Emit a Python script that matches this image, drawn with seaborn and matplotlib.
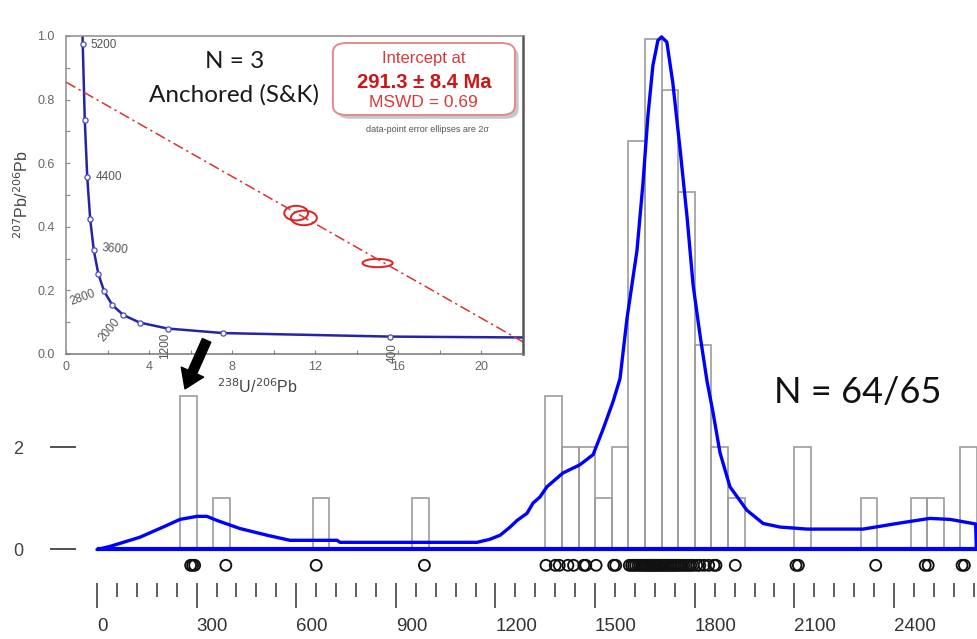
import numpy as np
import matplotlib
matplotlib.use('Agg')
import matplotlib.pyplot as plt
import seaborn as sns
from matplotlib.patches import Ellipse, FancyBboxPatch
from matplotlib.ticker import MultipleLocator

# ---------------- data ----------------
# detrital zircon ages (Ma)
ages = [282, 288, 294, 388, 660, 986,
        1352, 1380, 1392, 1418, 1435, 1466, 1472, 1503, 1556, 1562,
        1603, 1610, 1616, 1622, 1629, 1635, 1641, 1647,
        1652, 1657, 1662, 1667, 1672, 1677, 1682, 1687, 1692, 1697,
        1703, 1708, 1714, 1719, 1725, 1730, 1736, 1741, 1747,
        1753, 1760, 1767, 1774, 1781, 1788, 1795,
        1806, 1815, 1828, 1842,
        1858, 1864, 1922, 2105, 2112, 2345, 2494, 2503, 2605, 2612]
bin_width = 50

# density curve (scaled to the histogram), age / height
curve_age = [0, 39, 129, 199, 250, 301, 331, 361, 431, 512, 581, 723, 732, 1144,
             1183, 1214, 1244, 1265, 1295, 1313, 1334, 1355, 1403, 1454, 1494,
             1524, 1554, 1575, 1596, 1626, 1644, 1659, 1674, 1689, 1700, 1716,
             1734, 1756, 1777, 1795, 1816, 1837, 1855, 1876, 1906, 1957, 2006,
             2057, 2138, 2307, 2409, 2508, 2569, 2646, 2648]
curve_val = [0.0, 0.06, 0.24, 0.44, 0.59, 0.65, 0.65, 0.57, 0.41, 0.28, 0.18, 0.18, 0.14, 0.14,
             0.20, 0.28, 0.44, 0.57, 0.71, 0.91, 1.03, 1.23, 1.50, 1.66, 1.86,
             2.36, 2.90, 3.35, 4.53, 5.86, 7.17, 8.50, 9.49, 9.98, 10.05, 9.95,
             9.15, 7.84, 6.51, 5.19, 4.20, 3.30, 2.69, 1.90, 1.23, 0.77, 0.51,
             0.44, 0.40, 0.40, 0.51, 0.61, 0.59, 0.50, 0.0]

x_major = [0, 300, 600, 900, 1200, 1500, 1800, 2100, 2400]
x_labels = ['0', '300', '600', '900', '1200', '1500', '1800', '2100', '2400']
y_ticks = [0, 2]
y_labels = ['0', '2']

# inset: Tera-Wasserburg concordia nodes (238U/206Pb, 207Pb/206Pb)
node_age = [5200, 4800, 4400, 4000, 3600, 3200, 2800, 2400, 2000, 1600, 1200, 800, 400]
node_x = [0.806, 0.904, 1.022, 1.163, 1.338, 1.556, 1.838, 2.217, 2.749, 3.550, 4.888, 7.568, 15.62]
node_y = [0.974, 0.735, 0.557, 0.425, 0.326, 0.252, 0.197, 0.155, 0.123, 0.0987, 0.0801, 0.0658, 0.0547]
conc_x = [0.795] + node_x + [22.0]
conc_y = [1.009] + node_y + [0.0520]
labelled_ages = ['5200', '4400', '3600', '2800', '2000', '1200', '400']
# discordia (anchored) line end points
disc_x = [0.0, 22.3]
disc_y = [0.855, 0.027]
# data-point error ellipses: centre x, centre y, width, height
ell_x = [11.08, 11.45, 15.0]
ell_y = [0.443, 0.428, 0.286]
ell_w = [1.15, 1.25, 1.45]
ell_h = [0.046, 0.046, 0.026]

# ---------------- figure ----------------
sns.set_style('white')
plt.rcParams['font.family'] = ['Liberation Sans', 'DejaVu Sans']

W, H = 978, 639
fig = plt.figure(figsize=(W / 100, H / 100), dpi=100)


def px_rect(l, t, r, b):
    return [l / W, (H - b) / H, (r - l) / W, (b - t) / H]


ax = fig.add_axes(px_rect(95, 30, 978, 583))
bin_edges = np.arange(0, 2650 + bin_width, bin_width)
sns.histplot(x=ages, bins=bin_edges, ax=ax, fill=False, color='#9c9c9c',
             linewidth=1.2, element='bars')
sns.lineplot(x=curve_age, y=curve_val, ax=ax, color='#0000ff', linewidth=2.4,
             sort=False, estimator=None, zorder=4)
ax.hlines(0, curve_age[0], curve_age[-1], color='#0000ff', linewidth=3, zorder=4)
rug_y = -0.31
sns.scatterplot(x=ages, y=[rug_y] * len(ages), ax=ax, marker='o', s=62,
                facecolor='none', edgecolor='#111111', linewidth=1.35, zorder=5)

ax.set_xlim(-6, 2653)
ax.set_ylim(-0.657, 10.186)
ax.set_xlabel('')
ax.set_ylabel('')
for s in ax.spines.values():
    s.set_visible(False)
ax.spines['left'].set_position(('outward', 13.7))
ax.set_yticks(y_ticks)
ax.set_yticklabels(y_labels)
ax.tick_params(axis='y', direction='out', length=18.7, width=1.2, color='#333333',
               pad=19.4, labelsize=13, labelcolor='#444444', left=True)
ax.set_xticks(x_major)
ax.set_xticklabels(x_labels, ha='left')
ax.xaxis.set_minor_locator(MultipleLocator(60))
ax.tick_params(axis='x', which='major', direction='out', length=18, width=1.1,
               color='#333333', pad=7.5, labelsize=13.5, labelcolor='#333333', bottom=True)
ax.tick_params(axis='x', which='minor', direction='out', length=10, width=1.1,
               color='#333333', bottom=True)
for lbl in ax.get_xticklabels():
    lbl.set_x(lbl.get_position()[0])

ax.text(0.864, 0.344, 'N = 64/65', transform=ax.transAxes, ha='center', va='center',
        fontsize=26, family=['Lato', 'DejaVu Sans'], color='#111111')

# ---------------- inset ----------------
ax_in = fig.add_axes(px_rect(66, 36, 523, 354))
sns.lineplot(x=conc_x, y=conc_y, ax=ax_in, color='#2424a8', linewidth=1.8,
             sort=False, estimator=None)
sns.scatterplot(x=node_x, y=node_y, ax=ax_in, marker='o', s=14, facecolor='white',
                edgecolor='#4a4ac8', linewidth=0.9, zorder=4)
ax_in.plot(disc_x, disc_y, color='#e03030', linewidth=1.1,
           linestyle=(0, (7, 2.5, 1.5, 2.5)))
for cx, cy, w, h in zip(ell_x, ell_y, ell_w, ell_h):
    ax_in.add_patch(Ellipse((cx, cy), w, h, fill=False, edgecolor='#e02020', linewidth=1.4))

ax_in.set_xlim(0, 22)
ax_in.set_ylim(0, 1.0)
ax_in.set_xticks([0, 4, 8, 12, 16, 20])
ax_in.set_yticks([0.0, 0.2, 0.4, 0.6, 0.8, 1.0])
ax_in.set_yticklabels(['0.0', '0.2', '0.4', '0.6', '0.8', '1.0'])
ax_in.xaxis.set_minor_locator(MultipleLocator(2))
ax_in.yaxis.set_minor_locator(MultipleLocator(0.1))
ax_in.tick_params(which='both', direction='in', length=3, width=0.8, color='#888888',
                  labelsize=9, labelcolor='#666666', left=True, bottom=True)
ax_in.tick_params(axis='x', pad=5)
ax_in.tick_params(axis='y', pad=8)
for name, s in ax_in.spines.items():
    s.set_color('#8c8c8c')
    s.set_linewidth(1.1)
ax_in.spines['right'].set_color('#555555')
ax_in.spines['right'].set_linewidth(1.8)
ax_in.spines['bottom'].set_color('#777777')
ax_in.set_xlabel('$^{238}$U/$^{206}$Pb', fontsize=11.5, color='#444444')
ax_in.xaxis.label.set_va('center')
ax_in.xaxis.set_label_coords(0.42, -0.102)
ax_in.set_ylabel('$^{207}$Pb/$^{206}$Pb', fontsize=11.5, color='#444444')
ax_in.yaxis.label.set_va('center')
ax_in.yaxis.set_label_coords(-0.097, 0.50)

# node age labels (position in data units, rotation)
lab_pos = [(1.83, 0.972, 0), (2.05, 0.557, 0), (2.36, 0.330, -5), (0.79, 0.176, 20),
           (2.10, 0.075, 50), (4.77, 0.025, 90), (15.71, 0.003, 90)]
for txt, (lx, ly, rot) in zip(labelled_ages, lab_pos):
    ax_in.text(lx, ly, txt, fontsize=8.5, color='#555555', ha='center', va='center',
               rotation=rot, rotation_mode='anchor')

ax_in.text(0.368, 0.92, 'N = 3', transform=ax_in.transAxes, ha='center', va='center',
           fontsize=17.5, family=['Lato', 'DejaVu Sans'], color='#1a1a1a')
ax_in.text(0.368, 0.816, 'Anchored (S&K)', transform=ax_in.transAxes, ha='center',
           va='center', fontsize=17.5, family=['Lato', 'DejaVu Sans'], color='#1a1a1a')

# result box
bx0, by0, bw, bh = 0.584, 0.7516, 0.3985, 0.2264
shadow = FancyBboxPatch((bx0 + 0.008, by0 - 0.012), bw, bh,
                        boxstyle='round,pad=0,rounding_size=0.03',
                        transform=ax_in.transAxes, facecolor='#c8c8c8',
                        edgecolor='none', zorder=5)
box = FancyBboxPatch((bx0, by0), bw, bh, boxstyle='round,pad=0,rounding_size=0.03',
                     transform=ax_in.transAxes, facecolor='white', edgecolor='#e58a8a',
                     linewidth=1.4, zorder=6)
ax_in.add_patch(shadow)
ax_in.add_patch(box)
ax_in.text(0.783, 0.928, 'Intercept at', transform=ax_in.transAxes, ha='center',
           va='center', fontsize=12, color='#d83a3a', zorder=7)
ax_in.text(0.783, 0.855, '291.3 ± 8.4 Ma', transform=ax_in.transAxes, ha='center',
           va='center', fontsize=14.5, fontweight='bold', color='#cc1515', zorder=7)
ax_in.text(0.783, 0.792, 'MSWD = 0.69', transform=ax_in.transAxes, ha='center',
           va='center', fontsize=12.5, color='#d83a3a', zorder=7)
ax_in.text(0.79, 0.7075, 'data-point error ellipses are 2σ', transform=ax_in.transAxes,
           ha='center', va='center', fontsize=6.5, color='#555555', zorder=7)

# arrow pointing to the youngest population
ax_in.annotate('', xy=(265, 3.15), xycoords=ax.transData,
               xytext=(330, 4.1), textcoords=ax.transData,
               arrowprops=dict(arrowstyle='simple,head_length=0.6,head_width=0.8,tail_width=0.3',
                               mutation_scale=22, color='black', shrinkA=0, shrinkB=0),
               annotation_clip=False, zorder=10)

fig.savefig('out.png', dpi=100)
